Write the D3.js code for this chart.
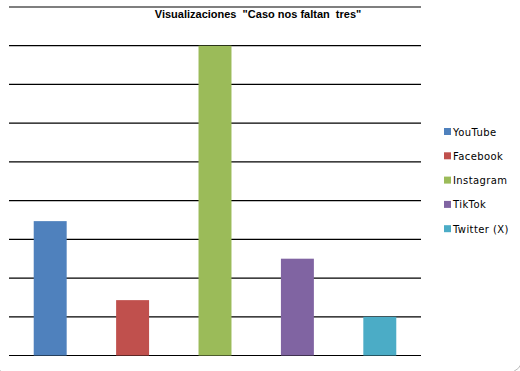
<!DOCTYPE html>
<html>
<head>
<meta charset="utf-8">
<script src="https://cdn.jsdelivr.net/npm/d3@7"></script>
<style>
  body { margin: 0; background: #fff; }
  svg { display: block; }
  text { white-space: pre; }
</style>
</head>
<body>
<svg id="chart" width="520" height="371"></svg>
<script>
const categories = ["YouTube", "Facebook", "Instagram", "TikTok", "Twitter (X)"];
const values = [3.47, 1.43, 8, 2.5, 1];
const colors = ["#4f81bd", "#c0504d", "#9bbb59", "#8064a2", "#4bacc6"];
const gridTicks = [0, 1, 2, 3, 4, 5, 6, 7, 8, 9];
const title = "Visualizaciones  \"Caso nos faltan  tres\"";

const svg = d3.select("#chart");
const plot = { left: 9, right: 421, top: 7, bottom: 355.5 };

// faint rounded border of the chart area, only the corners show
svg.append("rect")
    .attr("x", -8).attr("y", -8)
    .attr("width", 531).attr("height", 381)
    .attr("rx", 16).attr("ry", 16)
    .attr("fill", "none")
    .attr("stroke", "#bbb")
    .attr("stroke-width", 1);

const x = d3.scaleBand()
    .domain(categories)
    .range([plot.left, plot.right])
    .paddingInner(0.6)
    .paddingOuter(0.3);

const y = d3.scaleLinear()
    .domain([0, 9])
    .range([plot.bottom, plot.top]);

svg.append("g")
    .selectAll("line")
    .data(gridTicks)
    .enter()
    .append("line")
    .attr("x1", plot.left)
    .attr("x2", plot.right)
    .attr("y1", d => y(d))
    .attr("y2", d => y(d))
    .attr("stroke", "#000")
    .attr("stroke-width", 1.2);

svg.append("g")
    .selectAll("rect")
    .data(categories)
    .enter()
    .append("rect")
    .attr("x", d => x(d))
    .attr("y", (d, i) => y(values[i]))
    .attr("width", x.bandwidth())
    .attr("height", (d, i) => y(0) - y(values[i]))
    .attr("fill", (d, i) => colors[i]);

svg.append("text")
    .text(title)
    .attr("x", 258)
    .attr("y", 18)
    .attr("text-anchor", "middle")
    .attr("font-family", "Liberation Sans, Arial, sans-serif")
    .attr("font-weight", "bold")
    .attr("font-size", 11)
    .attr("fill", "#000");

const legend = svg.append("g")
    .selectAll("g")
    .data(categories)
    .enter()
    .append("g")
    .attr("transform", (d, i) => "translate(444," + (128 + i * 24.3) + ")");

legend.append("rect")
    .attr("width", 7)
    .attr("height", 7)
    .attr("fill", (d, i) => colors[i]);

legend.append("text")
    .text(d => d)
    .attr("x", 9)
    .attr("y", 7.5)
    .attr("font-family", "DejaVu Sans, sans-serif")
    .attr("font-size", 10)
    .attr("letter-spacing", 0.4)
    .attr("fill", "#000");
</script>
</body>
</html>
